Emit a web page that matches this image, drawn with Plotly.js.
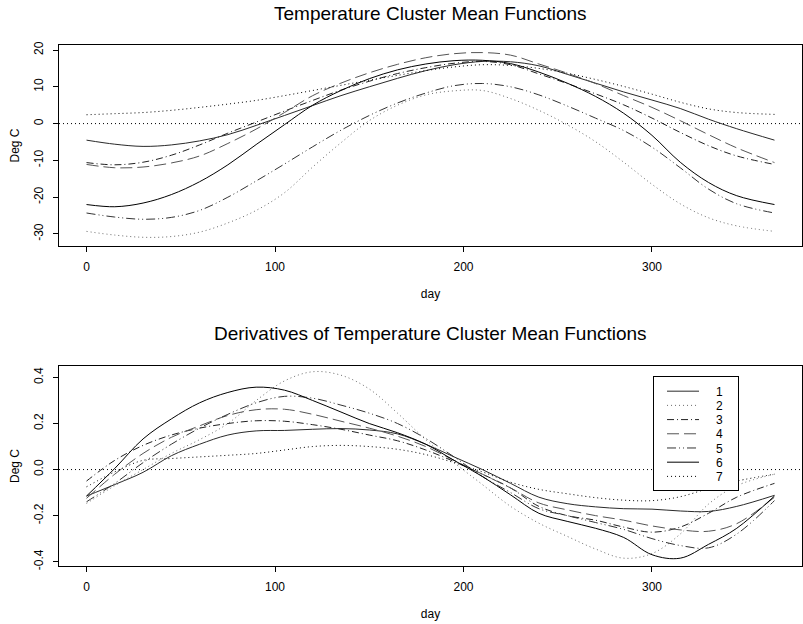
<!DOCTYPE html>
<html>
<head>
<meta charset="utf-8">
<script src="https://cdn.plot.ly/plotly-3.0.1.min.js"></script>
<style>html,body{margin:0;padding:0;background:#fff;}</style>
</head>
<body>
<div id="chart" style="width:803px;height:624px;"></div>
<script>
// day grid
const days = [0,15,30,45,60,75,90,105,120,135,150,165,180,195,210,225,240,255,270,285,300,315,330,345,365];

// cluster mean functions (Deg C)
const mean1 = [-4.5,-5.6,-6.2,-5.8,-4.7,-3.0,-0.5,2.2,4.9,7.6,10.0,12.3,14.4,16.0,16.9,16.8,15.7,13.4,11.0,8.6,6.4,4.1,1.2,-1.4,-4.5];
const mean2 = [-29.3,-30.3,-30.9,-30.7,-29.5,-27.0,-23.6,-18.8,-11.8,-5.2,0.8,5.0,7.8,8.9,9.0,6.8,3.6,-0.3,-4.9,-10.5,-16.5,-21.8,-25.6,-27.8,-29.3];
const mean3 = [-10.6,-11.2,-10.5,-8.6,-5.8,-2.6,0.4,3.4,6.3,9.1,11.5,13.6,15.2,16.4,16.9,16.0,13.5,10.9,8.1,5.1,1.5,-2.4,-6.0,-8.8,-11.1];
const mean4 = [-11.1,-12.0,-11.8,-10.7,-8.8,-5.4,-1.5,3.0,7.6,11.0,13.8,16.1,17.9,19.0,19.3,18.6,16.2,13.7,10.9,7.6,4.4,0.8,-3.0,-6.6,-10.6];
const mean5 = [-24.3,-25.4,-26.0,-25.5,-23.6,-20.0,-15.6,-11.0,-6.3,-1.8,2.2,5.6,8.3,10.3,10.9,10.0,7.8,4.8,1.5,-1.9,-6.4,-12.0,-17.8,-21.8,-24.3];
const mean6 = [-22.0,-22.6,-21.6,-19.3,-15.8,-11.2,-5.7,-0.3,5.0,9.0,12.2,14.6,16.2,17.1,17.2,16.3,14.0,11.0,7.4,2.8,-3.2,-10.5,-16.0,-19.6,-22.0];
const mean7 = [2.4,2.7,3.0,3.6,4.4,5.3,6.3,7.6,9.0,10.4,11.8,13.1,14.4,15.4,16.0,15.8,15.0,13.7,12.0,10.1,8.0,5.8,4.0,3.0,2.5];

// derivatives
const deriv1 = [-0.115,-0.065,-0.012,0.06,0.11,0.15,0.168,0.17,0.175,0.178,0.172,0.155,0.11,0.055,0.0,-0.06,-0.12,-0.148,-0.162,-0.17,-0.172,-0.18,-0.182,-0.16,-0.112];
const deriv2 = [-0.147,-0.07,0.0,0.07,0.13,0.2,0.3,0.385,0.425,0.41,0.35,0.245,0.13,0.03,-0.065,-0.16,-0.233,-0.29,-0.345,-0.385,-0.365,-0.28,-0.15,-0.07,-0.02];
const deriv3 = [-0.05,0.04,0.105,0.15,0.18,0.2,0.212,0.21,0.195,0.175,0.15,0.125,0.085,0.035,-0.02,-0.08,-0.16,-0.2,-0.22,-0.25,-0.272,-0.25,-0.19,-0.12,-0.06];
const deriv4 = [-0.125,-0.02,0.07,0.14,0.19,0.235,0.26,0.262,0.24,0.21,0.18,0.145,0.1,0.04,-0.02,-0.08,-0.145,-0.175,-0.2,-0.22,-0.245,-0.262,-0.268,-0.235,-0.12];
const deriv5 = [-0.14,-0.06,0.03,0.11,0.18,0.24,0.29,0.318,0.31,0.28,0.245,0.2,0.135,0.055,-0.03,-0.1,-0.17,-0.2,-0.23,-0.26,-0.3,-0.33,-0.34,-0.28,-0.135];
const deriv6 = [-0.115,0.005,0.133,0.22,0.29,0.335,0.358,0.345,0.30,0.25,0.20,0.16,0.11,0.04,-0.03,-0.11,-0.19,-0.225,-0.255,-0.295,-0.37,-0.385,-0.325,-0.255,-0.115];
const deriv7 = [-0.075,-0.01,0.04,0.048,0.055,0.062,0.07,0.085,0.1,0.105,0.1,0.088,0.065,0.03,-0.01,-0.055,-0.086,-0.105,-0.122,-0.133,-0.135,-0.118,-0.082,-0.05,-0.02];

const clusterNames = ['1','2','3','4','5','6','7'];
const xTickVals = [0,100,200,300];
const yTopTickVals = [-30,-20,-10,0,10,20];
const yTopTickText = ['-30','-20','-10','0','10','20'];
const yBotTickVals = [-0.4,-0.2,0,0.2,0.4];
const yBotTickText = ['-0.4','-0.2','0.0','0.2','0.4'];

const means = [mean1,mean2,mean3,mean4,mean5,mean6,mean7];
const derivs = [deriv1,deriv2,deriv3,deriv4,deriv5,deriv6,deriv7];

const styles = [
  {color:'#2a2a2a', dash:'solid'},
  {color:'#6a6a6a', dash:'1px,3px'},
  {color:'#222222', dash:'7px,3px,1px,3px'},
  {color:'#555555', dash:'12px,5px'},
  {color:'#333333', dash:'9px,3px,1px,3px,1px,3px'},
  {color:'#000000', dash:'solid'},
  {color:'#000000', dash:'1px,3px'}
];

const FONT = 'Arial, "Liberation Sans", Helvetica, sans-serif';
const traces = [];
for (let i = 0; i < 7; i++) {
  traces.push({
    x: days, y: means[i], xaxis:'x', yaxis:'y', type:'scatter', mode:'lines',
    name: clusterNames[i], showlegend:false, hoverinfo:'skip',
    line:{color:styles[i].color, dash:styles[i].dash, width:1, shape:'spline', smoothing:1}
  });
}
for (let i = 0; i < 7; i++) {
  traces.push({
    x: days, y: derivs[i], xaxis:'x2', yaxis:'y2', type:'scatter', mode:'lines',
    name: clusterNames[i], showlegend:true, hoverinfo:'skip',
    line:{color:styles[i].color, dash:styles[i].dash, width:1, shape:'spline', smoothing:1}
  });
}

const axisCommon = {
  showgrid:false, zeroline:false, showline:true, mirror:true,
  linecolor:'#000', linewidth:1, ticks:'outside', ticklen:5, tickcolor:'#000', tickwidth:1,
  tickfont:{family:FONT, size:12, color:'#000'}
};

const layout = {
  width:803, height:624, autosize:false,
  margin:{l:59, r:1, t:45, b:58},
  paper_bgcolor:'#fff', plot_bgcolor:'#fff',
  font:{family:FONT, size:12, color:'#000'},
  xaxis: Object.assign({}, axisCommon, {
    domain:[0,1], anchor:'y', range:[-14.6,379.6], tickvals:xTickVals, ticklabelstandoff:5,
    title:{text:'day', font:{family:FONT,size:12,color:'#000'}, standoff:16}
  }),
  yaxis: Object.assign({}, axisCommon, {
    domain:[0.6142,1], anchor:'x', range:[-33.27,21.36], tickvals:yTopTickVals, ticktext:yTopTickText,
    tickangle:-90, ticklabelstandoff:5,
    title:{text:'Deg C', font:{family:FONT,size:12,color:'#000'}, standoff:9}
  }),
  xaxis2: Object.assign({}, axisCommon, {
    domain:[0,1], anchor:'y2', range:[-14.6,379.6], tickvals:xTickVals, ticklabelstandoff:5,
    title:{text:'day', font:{family:FONT,size:12,color:'#000'}, standoff:16}
  }),
  yaxis2: Object.assign({}, axisCommon, {
    domain:[0,0.3839], anchor:'x2', range:[-0.419,0.45], tickvals:yBotTickVals, ticktext:yBotTickText,
    tickangle:-90, ticklabelstandoff:5,
    title:{text:'Deg C', font:{family:FONT,size:12,color:'#000'}, standoff:9}
  }),
  shapes:[
    {type:'line', xref:'x domain', x0:0, x1:1, yref:'y', y0:0, y1:0, line:{color:'#000', width:1, dash:'1px,3px'}},
    {type:'line', xref:'x2 domain', x0:0, x1:1, yref:'y2', y0:0, y1:0, line:{color:'#000', width:1, dash:'1px,3px'}}
  ],
  annotations:[
    {text:'Temperature Cluster Mean Functions', xref:'paper', yref:'paper', x:0.5, y:1.0614,
     xanchor:'center', yanchor:'middle', showarrow:false, font:{family:FONT, size:19, color:'#000'}},
    {text:'Derivatives of Temperature Cluster Mean Functions', xref:'paper', yref:'paper', x:0.5, y:0.4453,
     xanchor:'center', yanchor:'middle', showarrow:false, font:{family:FONT, size:19, color:'#000'}}
  ],
  legend:{
    x:0.7995, y:0.3653, xanchor:'left', yanchor:'top',
    bgcolor:'#fff', bordercolor:'#000', borderwidth:1,
    font:{family:FONT, size:12, color:'#000'}, tracegroupgap:0, traceorder:'normal'
  }
};

Plotly.newPlot('chart', traces, layout, {displayModeBar:false, staticPlot:true}).then(function(gd){
  // compact the legend rows and widen the box like the reference legend
  try {
    const leg = gd.querySelector('g.legend');
    const sb = leg.querySelector('g.scrollbox');
    if (sb) sb.removeAttribute('clip-path');
    const items = leg.querySelectorAll('g.traces');
    let y0 = null;
    items.forEach(function(g, i){
      const m = /translate\(\s*([-\d.e]+)[,\s]+([-\d.e]+)\s*\)/.exec(g.getAttribute('transform') || '');
      if (!m) return;
      const x = parseFloat(m[1]), y = parseFloat(m[2]);
      if (y0 === null) y0 = y;
      g.setAttribute('transform', 'translate(' + x + ',' + (y0 + i * 14.2) + ')');
      const p = g.querySelector('g.legendlines path');
      if (p) p.setAttribute('d', 'M13,0h32');
      const t = g.querySelector('text.legendtext');
      if (t) t.setAttribute('x', 62);
    });
    const bg = leg.querySelector('rect.bg');
    if (bg) { bg.setAttribute('height', 114); bg.setAttribute('width', 85); }
  } catch (e) {}
});
</script>
</body>
</html>
